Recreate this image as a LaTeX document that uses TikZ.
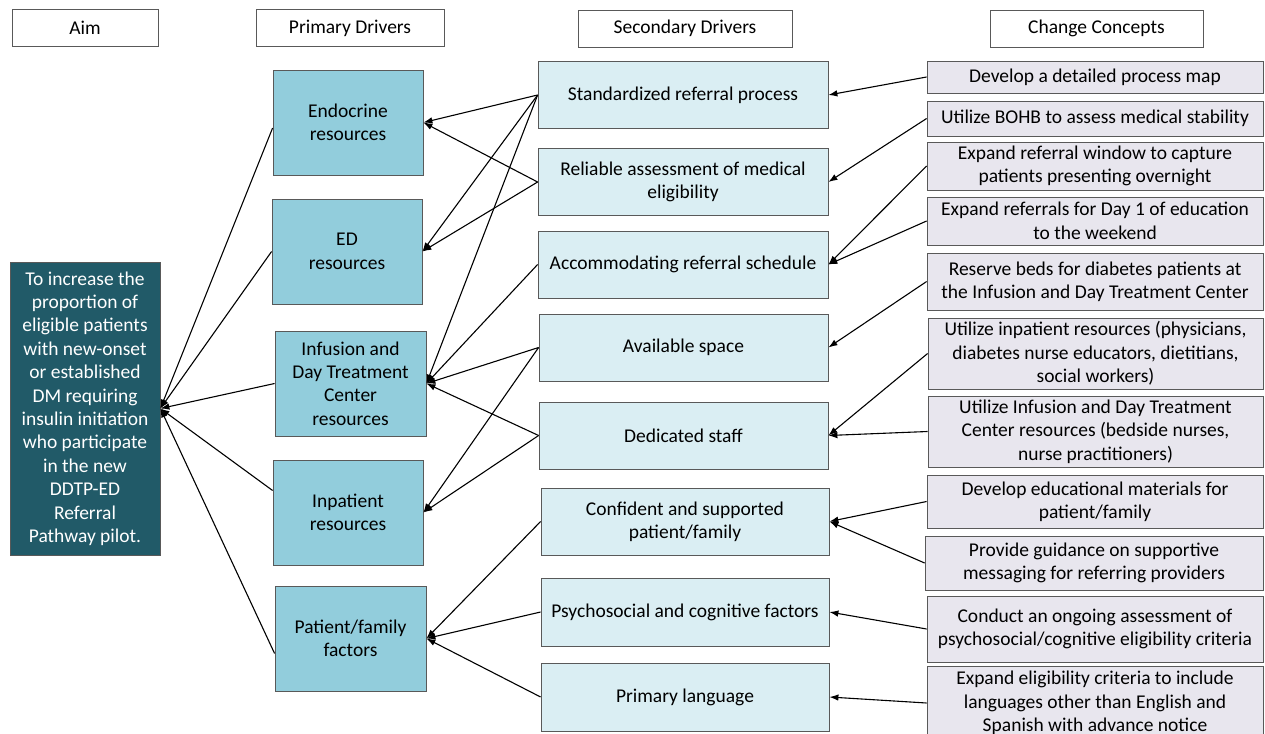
\documentclass[tikz,border=0pt]{standalone}
\usepackage{fontspec}
\setmainfont{Carlito}
\usetikzlibrary{arrows.meta}
\definecolor{aimfill}{HTML}{215A68}
\definecolor{primfill}{HTML}{92CDDC}
\definecolor{secfill}{HTML}{DAEEF3}
\definecolor{chgfill}{HTML}{E8E6EE}
\definecolor{edge}{HTML}{595959}
\begin{document}
\begin{tikzpicture}[x=1pt,y=-1pt,
  box/.style={draw=edge, line width=0.8pt, align=center, inner sep=1pt,
    font=\fontsize{19.5}{23.4}\selectfont, text=black},
  header/.style={box, fill=white, minimum height=37},
  aimbox/.style={box, fill=aimfill, text=white, minimum width=150, minimum height=293},
  primbox/.style={box, fill=primfill, minimum width=150, minimum height=105},
  secbox/.style={box, fill=secfill, minimum width=289, minimum height=67},
  chgbox/.style={box, fill=chgfill, minimum width=336},
  arr/.style={-{Latex[length=9pt,width=6.5pt]}, line width=1.1pt, black}]
\clip (0,0) rectangle (1265,733);
\fill[white] (0,0) rectangle (1265,733);

% column headers
\node[header, minimum width=146] (hAim) at (85,28) {Aim};
\node[header, minimum width=188] (hPrim) at (350,28) {Primary Drivers};
\node[header, minimum width=214] (hSec) at (685,28.5) {Secondary Drivers};
\node[header, minimum width=213] (hChg) at (1096.5,28.5) {Change Concepts};

% aim
\node[aimbox] (aim) at (85,408.5) {To increase the\\proportion of\\eligible patients\\with new-onset\\or established\\DM requiring\\insulin initiation\\who participate\\in the new\\DDTP-ED\\Referral\\Pathway pilot.};

% primary drivers
\node[primbox] (endo) at (348,122.5) {Endocrine\\resources};
\node[primbox] (ed) at (347,251.5) {ED\\resources};
\node[primbox, minimum width=151] (inf) at (350.5,383.5) {Infusion and\\Day Treatment\\Center\\resources};
\node[primbox] (inp) at (348,512.5) {Inpatient\\resources};
\node[primbox, minimum width=151] (pf) at (350.5,638.5) {Patient/family\\factors};

% secondary drivers
\node[secbox, minimum width=290] (s1) at (683,95) {Standardized referral process};
\node[secbox, minimum width=290] (s2) at (683,182) {Reliable assessment of medical\\eligibility};
\node[secbox, minimum width=290] (s3) at (683,264.5) {Accommodating referral schedule};
\node[secbox] (s4) at (683.5,347.5) {Available space};
\node[secbox] (s5) at (683.5,435.5) {Dedicated staff};
\node[secbox, minimum width=288] (s6) at (685,521.5) {Confident and supported\\patient/family};
\node[secbox, minimum width=288, minimum height=68] (s7) at (685,612) {Psychosocial and cognitive factors};
\node[secbox, minimum width=288, minimum height=68] (s8) at (685,697) {Primary language};

% change concepts
\node[chgbox, minimum height=32] (c1) at (1095,77) {Develop a detailed process map};
\node[chgbox, minimum height=35] (c2) at (1095,118.5) {Utilize BOHB to assess medical stability};
\node[chgbox, minimum height=48] (c3) at (1095,166) {Expand referral window to capture\\patients presenting overnight};
\node[chgbox, minimum height=48] (c4) at (1095,221) {Expand referrals for Day 1 of education\\to the weekend};
\node[chgbox, minimum height=57] (c5) at (1095,281.5) {Reserve beds for diabetes patients at\\the Infusion and Day Treatment Center};
\node[chgbox, minimum width=335, minimum height=71] (c6) at (1095.5,353.5) {Utilize inpatient resources (physicians,\\diabetes nurse educators, dietitians,\\social workers)};
\node[chgbox, minimum width=335, minimum height=71] (c7) at (1095.5,431.5) {Utilize Infusion and Day Treatment\\Center resources (bedside nurses,\\nurse practitioners)};
\node[chgbox, minimum height=53] (c8) at (1095,501.5) {Develop educational materials for\\patient/family};
\node[chgbox, minimum width=338, minimum height=54] (c9) at (1094,563) {Provide guidance on supportive\\messaging for referring providers};
\node[chgbox, minimum height=66] (c10) at (1095,629) {Conduct an ongoing assessment of\\psychosocial/cognitive eligibility criteria};
\node[chgbox, minimum height=74] (c11) at (1095,703) {Expand eligibility criteria to include\\languages other than English and\\Spanish with advance notice};

% primary drivers -> aim
\draw[arr] ([yshift=-5.5pt]endo.west) -- (aim.east);
\draw[arr] (ed.west) -- (aim.east);
\draw[arr] (inf.west) -- (aim.east);
\draw[arr] ([yshift=22pt]inp.west) -- (aim.east);
\draw[arr] ([yshift=-15pt]pf.west) -- (aim.east);

% secondary drivers -> primary drivers
\draw[arr] (s1.west) -- (endo.east);
\draw[arr] (s1.west) -- (ed.east);
\draw[arr] (s1.west) -- (inf.east);
\draw[arr] (s2.west) -- (endo.east);
\draw[arr] (s2.west) -- (ed.east);
\draw[arr] (s3.west) -- (inf.east);
\draw[arr] (s4.west) -- (inf.east);
\draw[arr] (s4.west) -- (inp.east);
\draw[arr] (s5.west) -- (inf.east);
\draw[arr] (s5.west) -- (inp.east);
\draw[arr] (s6.west) -- (pf.east);
\draw[arr] (s7.west) -- (pf.east);
\draw[arr] (s8.west) -- (pf.east);

% change concepts -> secondary drivers
\draw[arr] (c1.west) -- (s1.east);
\draw[arr] (c2.west) -- (s2.east);
\draw[arr] (c3.west) -- (s3.east);
\draw[arr] (c4.west) -- (s3.east);
\draw[arr] (c5.west) -- (s4.east);
\draw[arr] (c6.west) -- (s5.east);
\draw[arr] (c7.west) -- (s5.east);
\draw[arr] (c8.west) -- (s6.east);
\draw[arr] (c9.west) -- (s6.east);
\draw[arr] (c10.west) -- (s7.east);
\draw[arr] (c11.west) -- (s8.east);
\end{tikzpicture}
\end{document}
